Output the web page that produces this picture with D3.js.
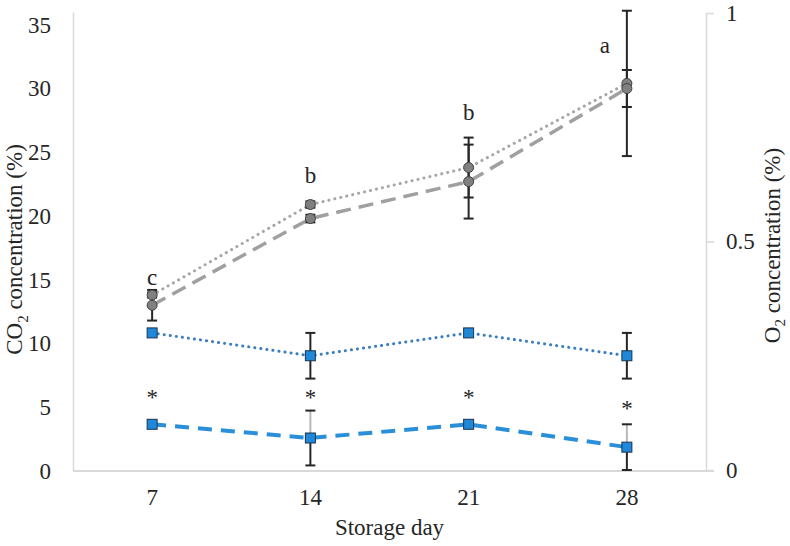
<!DOCTYPE html>
<html>
<head>
<meta charset="utf-8">
<script src="https://cdn.jsdelivr.net/npm/d3@7"></script>
<style>
  body { margin: 0; background: #fff; }
  text { font-family: "Liberation Serif", "Times New Roman", serif; fill: #262626; }
</style>
</head>
<body>
<div class="chart"></div>
<script>
// storage days (x categories)
const days = ["7", "14", "21", "28"];

// CO2 (left axis), two treatments
const co2Dotted = [13.8, 20.9, 23.8, 30.4];
const co2DottedErr = [0.2, 0.25, 2.35, 5.7];
const co2Dashed = [13.0, 19.8, 22.7, 30.0];
const co2DashedErr = [1.2, 0.3, 2.9, 1.45];

// O2 (right axis), two treatments
const o2Dotted = [0.30, 0.25, 0.30, 0.25];
const o2DottedErr = [0, 0.05, 0, 0.05];
const o2Dashed = [0.10, 0.07, 0.10, 0.05];
const o2DashedErr = [0, 0.06, 0, 0.05];

// annotations
const letters = ["c", "b", "b", "a"];
const letterAt = [14.6, 22.6, 27.5, 32.8];   // in CO2 units
const letterShift = [0, 0, 0, -22];          // px left of the day
const starAt = [0.18, 0.18, 0.18, 0.155];    // in O2 units

const leftTicks = [0, 5, 10, 15, 20, 25, 30, 35];
const rightTicks = [0, 0.5, 1];

const W = 790, H = 546;
const margin = {top: 12, right: 84, bottom: 75, left: 73};

const svg = d3.select(".chart").append("svg")
  .attr("width", W)
  .attr("height", H);

const x = d3.scaleBand()
  .domain(days)
  .range([margin.left, W - margin.right])
  .padding(0);
const yL = d3.scaleLinear().domain([0, 36]).range([H - margin.bottom, margin.top]);
const yR = d3.scaleLinear().domain([0, 1]).range([H - margin.bottom - 1, margin.top + 1]);
const cx = d => x(d) + x.bandwidth() / 2;

const axisColor = "#d9d9d9";
const fs = 23;

// left axis
svg.append("g")
  .attr("transform", `translate(${margin.left},0)`)
  .call(d3.axisLeft(yL).tickValues(leftTicks).tickSize(0).tickPadding(22))
  .call(g => g.select(".domain").attr("stroke", axisColor).attr("stroke-width", 1.5))
  .call(g => g.selectAll("text").style("font-size", fs + "px").attr("fill", "#262626"));

// right axis
svg.append("g")
  .attr("transform", `translate(${W - margin.right},0)`)
  .call(d3.axisRight(yR).tickValues(rightTicks).tickSize(8).tickPadding(12).tickSizeOuter(0)
    .tickFormat(d3.format("")))
  .call(g => g.select(".domain").attr("stroke", axisColor).attr("stroke-width", 1.5))
  .call(g => g.selectAll(".tick line").attr("stroke", axisColor).attr("stroke-width", 1.5))
  .call(g => g.selectAll("text").style("font-size", fs + "px").attr("fill", "#262626"));

// bottom axis
svg.append("g")
  .attr("transform", `translate(0,${H - margin.bottom})`)
  .call(d3.axisBottom(x).tickSize(0).tickPadding(18).tickSizeOuter(0))
  .call(g => g.select(".domain").attr("stroke", axisColor).attr("stroke-width", 2)
    .attr("d", `M${margin.left},0H${W - margin.right + 8}`))
  .call(g => g.selectAll("text").style("font-size", fs + "px").attr("fill", "#262626"));

// axis titles
svg.append("text")
  .attr("x", (margin.left + W - margin.right) / 2)
  .attr("y", 535)
  .attr("text-anchor", "middle")
  .style("font-size", fs + "px")
  .text("Storage day");

const lt = svg.append("text")
  .attr("transform", `translate(22,${(margin.top + H - margin.bottom) / 2 + 8}) rotate(-90)`)
  .attr("text-anchor", "middle")
  .style("font-size", fs + "px");
lt.append("tspan").text("CO");
lt.append("tspan").attr("dy", 6).style("font-size", "15px").text("2");
lt.append("tspan").attr("dy", -6).text(" concentration (%)");

const rt = svg.append("text")
  .attr("transform", `translate(780,${(margin.top + H - margin.bottom) / 2 + 4}) rotate(-90)`)
  .attr("text-anchor", "middle")
  .style("font-size", fs + "px");
rt.append("tspan").text("O");
rt.append("tspan").attr("dy", 5).style("font-size", "15px").text("2");
rt.append("tspan").attr("dy", -5).text(" concentration (%)");

// series definitions
const series = [
  {vals: co2Dotted, err: co2DottedErr, y: yL, color: "#a6a6a6", width: 3, dash: "0.1 6", cap: "round", mark: "circle"},
  {vals: co2Dashed, err: co2DashedErr, y: yL, color: "#a0a0a0", width: 3.5, dash: "15 8", cap: "butt", mark: "circle"},
  {vals: o2Dotted, err: o2DottedErr, y: yR, color: "#3a7ec0", width: 3, dash: "0.1 6", cap: "round", mark: "square"},
  {vals: o2Dashed, err: o2DashedErr, y: yR, color: "#2a8fd8", width: 4, dash: "14 9", cap: "butt", mark: "square"}
];

// lines
series.forEach(s => {
  const line = d3.line()
    .x((d, i) => cx(days[i]))
    .y(d => s.y(d));
  svg.append("path")
    .datum(s.vals)
    .attr("d", line)
    .attr("fill", "none")
    .attr("stroke", s.color)
    .attr("stroke-width", s.width)
    .attr("stroke-dasharray", s.dash)
    .attr("stroke-linecap", s.cap);
});

// error bars
series.forEach((s, si) => {
  s.vals.forEach((v, i) => {
    const e = s.err[i];
    if (!e) return;
    const px = cx(days[i]);
    const top = s.y(v + e), mid = s.y(v), bot = s.y(v - e);
    const g = svg.append("g").attr("stroke-width", 2);
    // blue dashed bars have a lighter upper whisker
    g.append("line").attr("x1", px).attr("x2", px).attr("y1", top).attr("y2", mid)
      .attr("stroke", si === 3 ? "#b8b8b8" : "#262626");
    g.append("line").attr("x1", px).attr("x2", px).attr("y1", mid).attr("y2", bot)
      .attr("stroke", "#262626");
    [top, bot].forEach(yy => g.append("line")
      .attr("x1", px - 5).attr("x2", px + 5).attr("y1", yy).attr("y2", yy)
      .attr("stroke", "#262626"));
  });
});

// markers
series.forEach(s => {
  if (s.mark === "circle") {
    svg.append("g").selectAll("circle")
      .data(s.vals)
      .join("circle")
        .attr("cx", (d, i) => cx(days[i]))
        .attr("cy", d => s.y(d))
        .attr("r", 5)
        .attr("fill", "#808080")
        .attr("stroke", "#404040")
        .attr("stroke-width", 1);
  } else {
    svg.append("g").selectAll("rect")
      .data(s.vals)
      .join("rect")
        .attr("x", (d, i) => cx(days[i]) - 5)
        .attr("y", d => s.y(d) - 5)
        .attr("width", 10)
        .attr("height", 10)
        .attr("fill", "#1f88d9")
        .attr("stroke", "#1b3350")
        .attr("stroke-width", 1);
  }
});

// significance letters
svg.append("g").selectAll("text")
  .data(letters)
  .join("text")
    .attr("x", (d, i) => cx(days[i]) + letterShift[i])
    .attr("y", (d, i) => yL(letterAt[i]))
    .attr("text-anchor", "middle")
    .style("font-size", fs + "px")
    .text(d => d);

// asterisks
svg.append("g").selectAll("text")
  .data(starAt)
  .join("text")
    .attr("x", (d, i) => cx(days[i]))
    .attr("y", d => yR(d))
    .attr("dy", "0.75em")
    .attr("text-anchor", "middle")
    .style("font-size", fs + "px")
    .text("*");
</script>
</body>
</html>
